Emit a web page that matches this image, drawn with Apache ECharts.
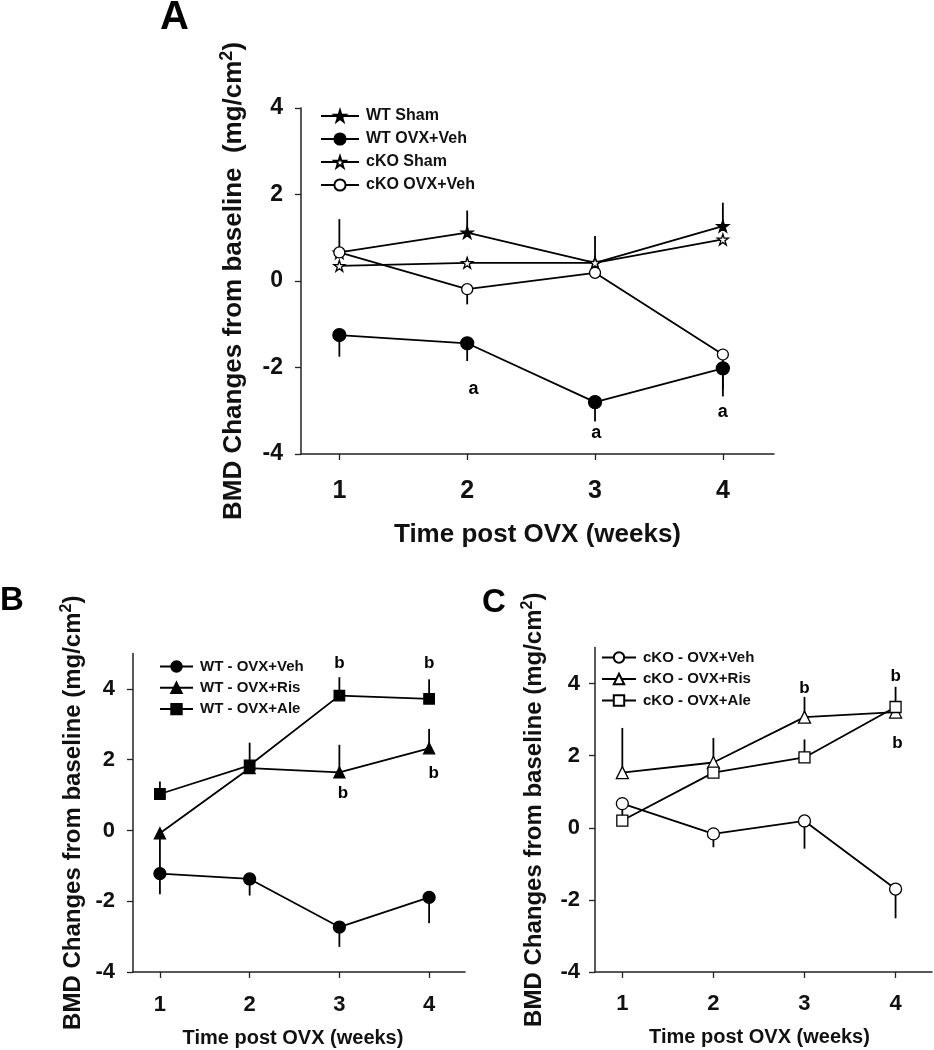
<!DOCTYPE html>
<html>
<head>
<meta charset="utf-8">
<script src="https://cdn.jsdelivr.net/npm/echarts@6/dist/echarts.min.js"></script>
<style>
html,body{margin:0;padding:0;background:#fff;}
#chart{width:934px;height:1050px;}
</style>
</head>
<body>
<div id="chart"></div>
<script>
// ---------- data ----------
var weeks = [1, 2, 3, 4];
var yTicks = [-4, -2, 0, 2, 4];

// Panel A
var aNames = ['WT Sham', 'WT OVX+Veh', 'cKO Sham', 'cKO OVX+Veh'];
var aWtSham      = [0.66, 1.12, 0.42, 1.27];
var aWtShamErr   = [0.77, 0.51, 0.62, 0.54];      // drawn upward
var aWtOvx       = [-1.25, -1.44, -2.80, -2.02];
var aWtOvxErr    = [-0.50, -0.41, -0.45, -0.65];  // drawn downward
var aCkoSham     = [0.35, 0.42, 0.42, 0.96];
var aCkoOvx      = [0.66, -0.19, 0.19, -1.70];
var aCkoOvxErr   = [null, -0.35, null, -0.80];
var aMarks = [{x: 2.05, y: -2.50, t: 'a'}, {x: 3.01, y: -3.52, t: 'a'}, {x: 4.0, y: -3.04, t: 'a'}];

// Panel B
var bNames = ['WT - OVX+Veh', 'WT - OVX+Ris', 'WT - OVX+Ale'];
var bVeh    = [-1.22, -1.37, -2.73, -1.89];
var bVehErr = [-0.58, -0.47, -0.56, -0.73];
var bRis    = [-0.08, 1.76, 1.64, 2.32];
var bRisErr = [-1.10, null, 0.78, 0.55];
var bAle    = [1.03, 1.84, 3.81, 3.72];
var bAleErr = [0.35, 0.64, 0.52, 0.55];
var bMarks = [{x: 3.0, y: 4.72, t: 'b'}, {x: 4.0, y: 4.72, t: 'b'}, {x: 3.04, y: 1.05, t: 'b'}, {x: 4.05, y: 1.62, t: 'b'}];

// Panel C
var cNames = ['cKO - OVX+Veh', 'cKO - OVX+Ris', 'cKO - OVX+Ale'];
var cVeh    = [0.67, -0.17, 0.19, -1.70];
var cVehErr = [-0.32, -0.37, -0.77, -0.81];
var cRis    = [1.53, 1.81, 3.07, 3.21];
var cRisErr = [1.24, 0.68, 0.56, null];
var cAle    = [0.20, 1.53, 1.95, 3.35];
var cAleErr = [null, null, 0.50, 0.56];
var cMarks = [{x: 3.0, y: 3.88, t: 'b'}, {x: 4.0, y: 4.19, t: 'b'}, {x: 4.02, y: 2.34, t: 'b'}];

// ---------- helpers ----------
var FONT = 'Liberation Sans, Arial, Helvetica, sans-serif';
var STAR = 'path://M50,0 L61.2,34.5 L97.6,34.5 L68.2,55.9 L79.4,90.5 L50,69.1 L20.6,90.5 L31.8,55.9 L2.4,34.5 L38.8,34.5 Z';

function pts(vals) { return weeks.map(function (w, i) { return [w, vals[i]]; }); }
function errData(vals, errs) {
  var out = [];
  weeks.forEach(function (w, i) {
    if (errs[i] !== null && errs[i] !== undefined) out.push([w, vals[i], vals[i] + errs[i]]);
  });
  return out;
}
function lineSeries(name, idx, vals, symbol, size, filled) {
  return {
    type: 'line', name: name, xAxisIndex: idx, yAxisIndex: idx,
    data: pts(vals), symbol: symbol, symbolSize: size, showSymbol: true,
    lineStyle: {color: '#000', width: 1.8},
    itemStyle: {color: filled ? '#000' : '#fff', borderColor: '#000', borderWidth: 1.3},
    z: 3, animation: false, silent: true
  };
}
function errSeries(idx, vals, errs) {
  return {
    type: 'custom', xAxisIndex: idx, yAxisIndex: idx, z: 2, animation: false, silent: true,
    data: errData(vals, errs), encode: {x: 0, y: [1, 2]},
    renderItem: function (params, api) {
      var p0 = api.coord([api.value(0), api.value(1)]);
      var p1 = api.coord([api.value(0), api.value(2)]);
      return {type: 'line', shape: {x1: p0[0], y1: p0[1], x2: p1[0], y2: p1[1]},
              style: {stroke: '#000', lineWidth: 1.8}};
    }
  };
}
function markSeries(idx, marks, size) {
  return {
    type: 'custom', xAxisIndex: idx, yAxisIndex: idx, z: 4, animation: false, silent: true,
    data: marks.map(function (m) { return [m.x, m.y]; }), encode: {x: 0, y: 1},
    renderItem: function (params, api) {
      var p = api.coord([api.value(0), api.value(1)]);
      return {type: 'text', x: p[0], y: p[1],
              style: {text: marks[params.dataIndex].t, fill: '#000', align: 'center', verticalAlign: 'middle',
                       font: 'bold ' + size + 'px ' + FONT}};
    }
  };
}
function xAxis(idx, labelSize, labelMargin, nameSize, nameGap, namePad) {
  return {
    type: 'value', gridIndex: idx, min: 0.7, max: 4.4,
    axisLine: {show: true, onZero: false, lineStyle: {color: '#222', width: 1.5}},
    axisTick: {show: true, length: 6, inside: false, customValues: weeks, lineStyle: {color: '#222', width: 1.3}},
    axisLabel: {customValues: weeks, fontSize: labelSize, fontWeight: 'bold', fontFamily: FONT, color: '#111', margin: labelMargin},
    splitLine: {show: false},
    name: 'Time post OVX (weeks)', nameLocation: 'middle', nameGap: nameGap,
    nameTextStyle: {fontSize: nameSize, fontWeight: 'bold', fontFamily: FONT, color: '#111', padding: namePad || 0}
  };
}
function yAxis(idx, max, labelSize, labelMargin, nameSize, nameGap, nameText, supPad) {
  return {
    type: 'value', gridIndex: idx, min: -4, max: max,
    axisLine: {show: true, onZero: false, lineStyle: {color: '#222', width: 1.5}},
    axisTick: {show: true, length: 6, inside: false, customValues: yTicks, lineStyle: {color: '#222', width: 1.3}},
    axisLabel: {customValues: yTicks, fontSize: labelSize, fontWeight: 'bold', fontFamily: FONT, color: '#111', margin: labelMargin},
    splitLine: {show: false},
    name: nameText, nameLocation: 'middle', nameRotate: 90, nameGap: nameGap,
    nameTextStyle: {fontSize: nameSize, fontWeight: 'bold', fontFamily: FONT, color: '#111',
      rich: {s: {fontSize: Math.round(nameSize * 0.68), fontWeight: 'bold', fontFamily: FONT, color: '#111',
                 verticalAlign: 'bottom', padding: [0, 0, supPad, 0]}}}
  };
}
function legend(idx, names, left, top, w, h, gap, fs) {
  return {
    data: names, orient: 'vertical', left: left, top: top, itemWidth: w, itemHeight: h, itemGap: gap,
    padding: 0, selectedMode: false,
    textStyle: {fontSize: fs, fontWeight: 'bold', fontFamily: FONT, color: '#111', padding: [0, 0, 0, 2]}
  };
}

var option = {
  backgroundColor: '#fff',
  animation: false,
  title: [
    {text: 'A', left: 160, top: -2, padding: 0, textStyle: {fontSize: 40, fontWeight: 'bold', fontFamily: FONT, color: '#000'}},
    {text: 'B', left: 0, top: 584, padding: 0, textStyle: {fontSize: 33, fontWeight: 'bold', fontFamily: FONT, color: '#000'}},
    {text: 'C', left: 482, top: 586, padding: 0, textStyle: {fontSize: 33, fontWeight: 'bold', fontFamily: FONT, color: '#000'}}
  ],
  grid: [
    {left: 301, top: 108, right: 160, bottom: 596, containLabel: false},
    {left: 133, top: 653.5, right: 469, bottom: 78, containLabel: false},
    {left: 595, top: 647.5, right: 2, bottom: 78, containLabel: false}
  ],
  legend: [
    legend(0, aNames, 320, 108, 38, 14, 7, 16),
    legend(1, bNames, 159, 659, 33, 13, 6.3, 15),
    legend(2, cNames, 601, 650, 34, 13, 6.5, 15)
  ],
  xAxis: [
    xAxis(0, 25, 25, 26, 68),
    xAxis(1, 22, 22, 20, 56, [0, 12, 0, 0]),
    xAxis(2, 22, 21, 20, 55, [0, 8, 0, 0])
  ],
  yAxis: [
    yAxis(0, 4, 23, 18, 26, 52, 'BMD Changes from baseline  (mg/cm{s|2})', 13),
    yAxis(1, 5, 22, 18, 24, 46, 'BMD Changes from baseline (mg/cm{s|2})', 12),
    yAxis(2, 5, 22, 15, 24, 47, 'BMD Changes from baseline (mg/cm{s|2})', 12)
  ],
  series: [
    // Panel A
    errSeries(0, aWtSham, aWtShamErr),
    errSeries(0, aWtOvx, aWtOvxErr),
    errSeries(0, aCkoOvx, aCkoOvxErr),
    lineSeries(aNames[0], 0, aWtSham, STAR, 12, true),
    lineSeries(aNames[1], 0, aWtOvx, 'circle', 13, true),
    lineSeries(aNames[2], 0, aCkoSham, STAR, 11, false),
    lineSeries(aNames[3], 0, aCkoOvx, 'circle', 11, false),
    markSeries(0, aMarks, 18),
    // Panel B
    errSeries(1, bVeh, bVehErr),
    errSeries(1, bRis, bRisErr),
    errSeries(1, bAle, bAleErr),
    lineSeries(bNames[0], 1, bVeh, 'circle', 12, true),
    lineSeries(bNames[1], 1, bRis, 'triangle', 11, true),
    lineSeries(bNames[2], 1, bAle, 'rect', 10.5, true),
    markSeries(1, bMarks, 17),
    // Panel C
    errSeries(2, cVeh, cVehErr),
    errSeries(2, cRis, cRisErr),
    errSeries(2, cAle, cAleErr),
    lineSeries(cNames[0], 2, cVeh, 'circle', 12, false),
    lineSeries(cNames[1], 2, cRis, 'triangle', 12, false),
    lineSeries(cNames[2], 2, cAle, 'rect', 11, false),
    markSeries(2, cMarks, 17)
  ]
};

var chart = echarts.init(document.getElementById('chart'), null, {renderer: 'canvas'});
chart.setOption(option);
</script>
</body>
</html>
